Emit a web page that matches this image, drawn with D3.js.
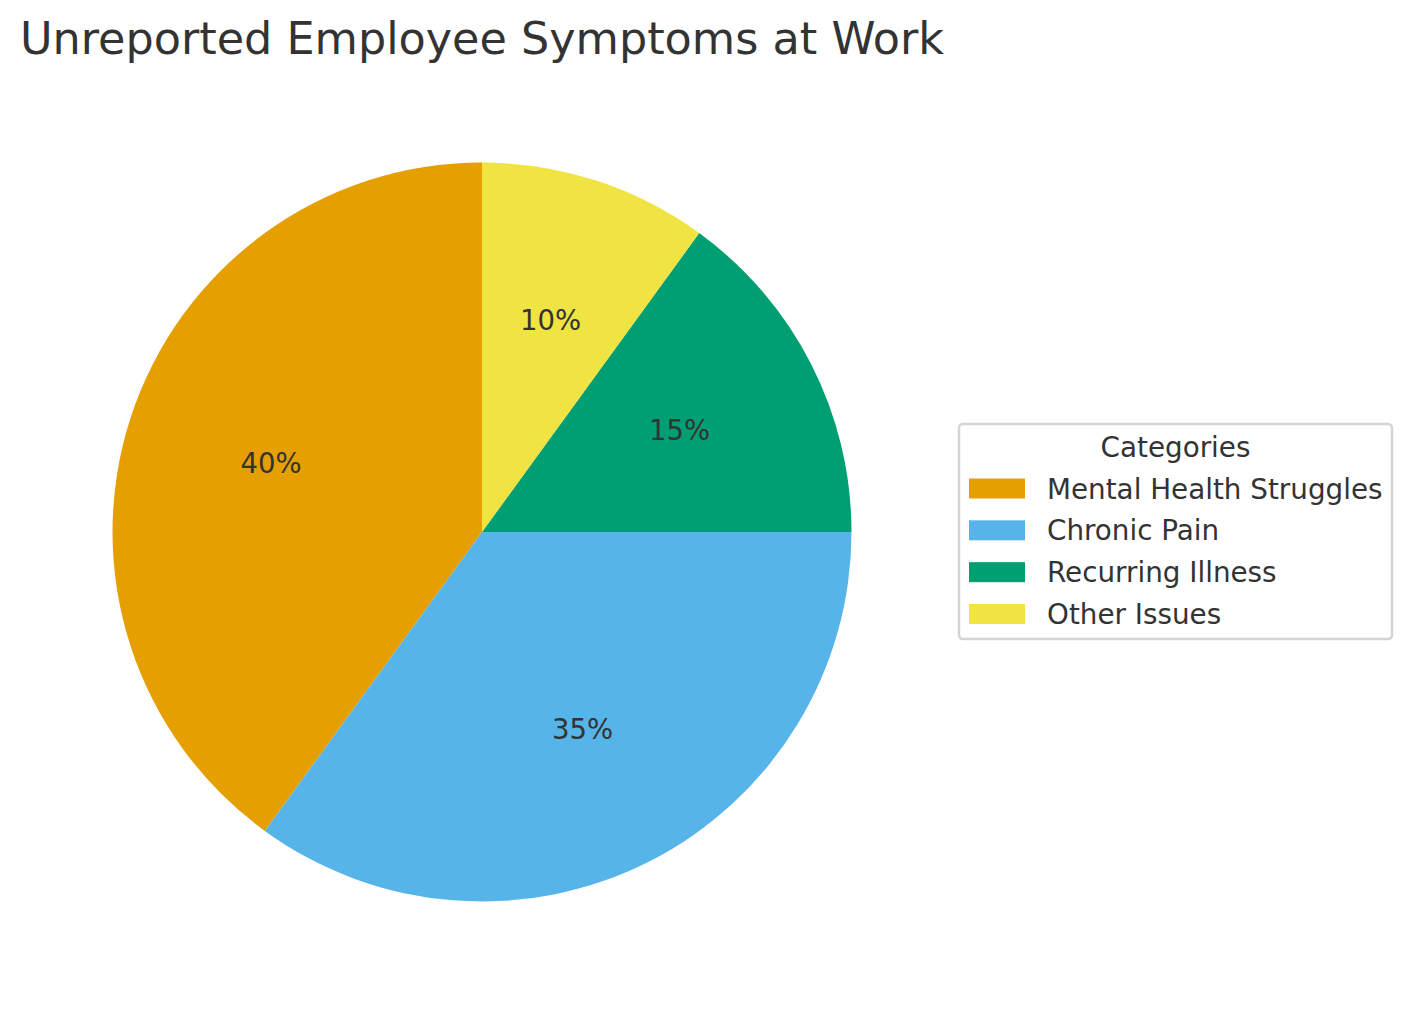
<!DOCTYPE html>
<html>
<head>
<meta charset="utf-8">
<script src="https://cdn.jsdelivr.net/npm/d3@7"></script>
<style>
  html, body { margin: 0; padding: 0; background: #fff; }
  svg { display: block; font-family: "DejaVu Sans", sans-serif; }
</style>
</head>
<body>
<svg id="chart" width="1413" height="1014"></svg>
<script>
const categories = ["Mental Health Struggles", "Chronic Pain", "Recurring Illness", "Other Issues"];
const values = [40, 35, 15, 10];
const colors = ["#E69F00", "#56B4E9", "#009E73", "#F0E442"];
const titleText = "Unreported Employee Symptoms at Work";
const legendTitle = "Categories";

const svg = d3.select("#chart");
const cx = 482, cy = 532, r = 369.5;
const textColor = "#333333";

svg.append("text")
  .attr("x", 20).attr("y", 54)
  .attr("font-size", 44.5)
  .attr("fill", textColor)
  .text(titleText);

const data = categories.map((c, i) => ({ cat: c, value: values[i] }));
const total = d3.sum(values);
const pie = d3.pie().value(d => d.value).sort(null).startAngle(0).endAngle(-2 * Math.PI);
const arcs = pie(data);
const color = d3.scaleOrdinal().domain(categories).range(colors);
const arc = d3.arc().innerRadius(0).outerRadius(r);
const labelArc = d3.arc().innerRadius(r * 0.6).outerRadius(r * 0.6);

const g = svg.append("g").attr("transform", `translate(${cx},${cy})`);
g.selectAll("path.slice").data(arcs).enter().append("path")
  .attr("class", "slice")
  .attr("d", arc)
  .attr("fill", d => color(d.data.cat));

g.selectAll("text.pct").data(arcs).enter().append("text")
  .attr("class", "pct")
  .attr("x", d => labelArc.centroid(d)[0])
  .attr("y", d => labelArc.centroid(d)[1] + 9)
  .attr("text-anchor", "middle")
  .attr("font-size", 27.5)
  .attr("fill", textColor)
  .text(d => Math.round(d.data.value / total * 100) + "%");

// Legend
const lx = 958, ly = 423, lw = 435, lh = 217;
const leg = svg.append("g");
leg.append("rect")
  .attr("x", lx + 1).attr("y", ly + 1).attr("width", lw - 2).attr("height", lh - 2)
  .attr("rx", 4).attr("ry", 4)
  .attr("fill", "#fff").attr("stroke", "#d4d4d4").attr("stroke-width", 2.5);
leg.append("text")
  .attr("x", lx + lw / 2).attr("y", 457)
  .attr("text-anchor", "middle")
  .attr("font-size", 27.8)
  .attr("fill", textColor)
  .text(legendTitle);
const rowY = d3.scalePoint().domain(categories).range([488.5, 614]);
const items = leg.selectAll("g.item").data(categories).enter().append("g").attr("class", "item");
items.append("rect")
  .attr("x", 969).attr("y", d => rowY(d) - 10)
  .attr("width", 56).attr("height", 20)
  .attr("fill", d => color(d));
items.append("text")
  .attr("x", 1047).attr("y", d => rowY(d) + 10)
  .attr("font-size", 27.8)
  .attr("fill", textColor)
  .text(d => d);
</script>
</body>
</html>
